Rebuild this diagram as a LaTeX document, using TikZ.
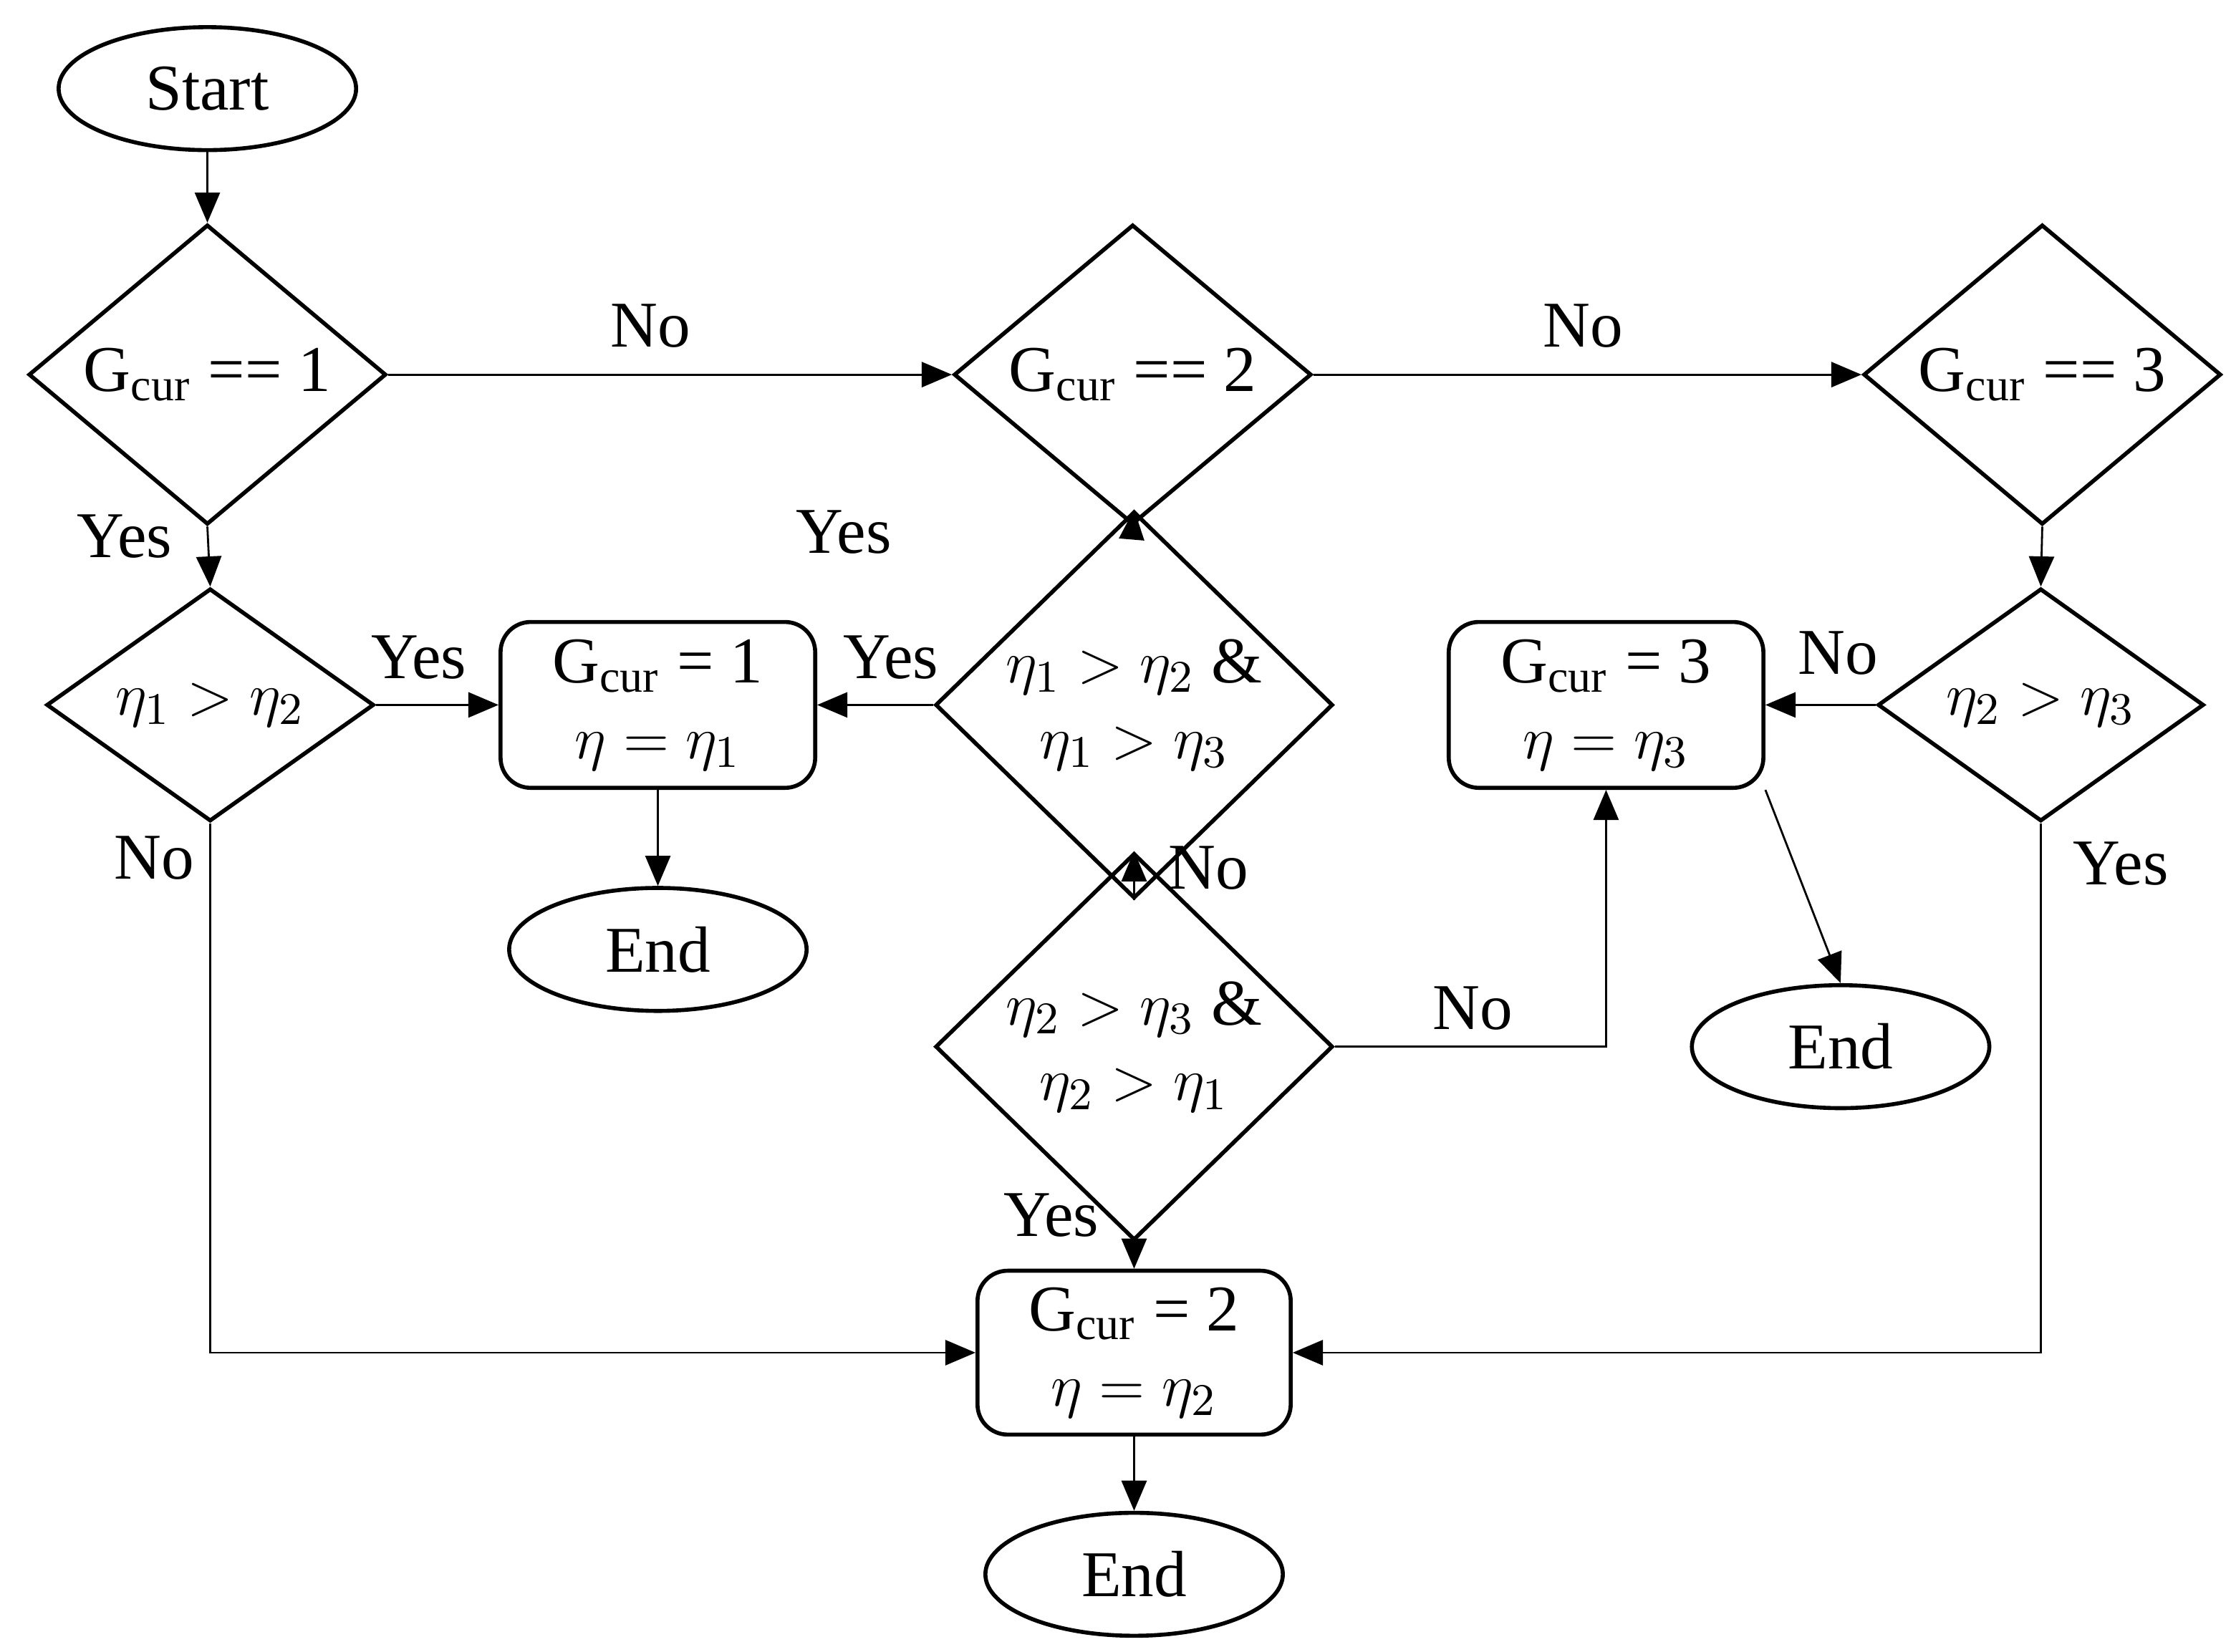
\documentclass[tikz,border=0pt]{standalone}
\usepackage{fontspec}
\setmainfont{Liberation Serif}
\usetikzlibrary{arrows.meta,shapes.geometric,calc}
\begin{document}
\begin{tikzpicture}
		[font=\fontsize{13}{15}\selectfont,
		term/.style={ellipse,draw=black,thick,minimum width=2.08cm,minimum height=0.86cm,inner sep=0},
		cond/.style={diamond,draw=black,thick,minimum width=2.5cm,minimum height=1.68cm,inner sep=0,align=center},
		proc/.style={rectangle,rounded corners=6pt,draw=black,thick,minimum width=2.2cm,minimum height=1.16cm,align=center},
		flow/.style={-{Triangle[length=6pt,width=5pt]}},
		lbl/.style={inner sep=0}]
		\useasboundingbox (0,0) rectangle (15.6,11.55);
		
		\node[term] (start) at (1.45,10.93){Start};
		\node[cond] (gone) at (1.45,8.93){G$_{\mathrm{cur}}$ == 1};
		\node[cond] (gtwo) at (7.92,8.93){G$_{\mathrm{cur}}$ == 2};
		\node[cond] (gthree) at (14.28,8.93){G$_{\mathrm{cur}}$ == 3};
		\node[cond,minimum width=2.29cm,minimum height=1.52cm] (eonetwo) at (1.47,6.62){$\eta_1>\eta_2$};
		\node[proc] (setone) at (4.60,6.62){G$_{\mathrm{cur}}$ = 1\\$\eta=\eta_1$};
		\node[cond,minimum width=2.78cm,minimum height=1.86cm] (eoneall) at (7.93,6.62){$\eta_1>\eta_2$ \&\\$\eta_1>\eta_3$};
		\node[proc] (setthree) at (11.23,6.62){G$_{\mathrm{cur}}$ = 3\\$\eta=\eta_3$};
		\node[cond,minimum width=2.28cm,minimum height=1.52cm] (etwothree) at (14.27,6.62){$\eta_2>\eta_3$};
		\node[term] (endone) at (4.60,4.91){End};
		\node[cond,minimum width=2.78cm,minimum height=1.85cm] (etwoall) at (7.93,4.23){$\eta_2>\eta_3$ \&\\$\eta_2>\eta_1$};
		\node[term] (endthree) at (12.87,4.23){End};
		\node[proc,minimum width=2.19cm,minimum height=1.14cm] (settwo) at (7.93,2.09){G$_{\mathrm{cur}}$ = 2\\$\eta=\eta_2$};
		\node[term] (endtwo) at (7.93,0.54){End};
		
		\coordinate (cornone) at (1.47,2.09);
		\coordinate (cornthree) at (14.27,2.09);
		\coordinate (cornno) at (11.23,4.23);
		
		\draw[flow] (start) -- (gone);
		\draw[flow] (gone.east) -- (gtwo.west);
		\draw[flow] (gtwo.east) -- (gthree.west);
		\draw[flow] (gone.south) -- (eonetwo.north);
		\draw[flow] (gtwo.south) -- (eoneall.north);
		\draw[flow] (gthree.south) -- (etwothree.north);
		\draw[flow] (eonetwo.east) -- (setone.west);
		\draw[flow] (eoneall.west) -- (setone.east);
		\draw[flow] (etwothree.west) -- (setthree.east);
		\draw[flow] (setone) -- (endone);
		\draw[flow] (eoneall.south) -- (etwoall.north);
		\draw[flow] (etwoall.east) -- (cornno) -- (setthree.south);
		\draw[flow] (setthree.south east) -- (endthree.north);
		\draw[flow] (etwoall.south) -- (settwo.north);
		\draw[flow] (eonetwo.south) -- (cornone) -- (settwo.west);
		\draw[flow] (etwothree.south) -- (cornthree) -- (settwo.east);
		\draw[flow] (settwo) -- (endtwo);
		
		\node[lbl] (noone) at (4.55,9.27){No};
		\node[lbl] (notwo) at (11.07,9.27){No};
		\node[lbl] (yesone) at (0.87,7.80){Yes};
		\node[lbl] (yestwo) at (5.90,7.83){Yes};
		\node[lbl] (yesthree) at (2.93,6.95){Yes};
		\node[lbl] (yesfour) at (6.23,6.95){Yes};
		\node[lbl] (nothree) at (12.85,6.98){No};
		\node[lbl] (nofour) at (1.08,5.55){No};
		\node[lbl] (nofive) at (8.45,5.48){No};
		\node[lbl] (yesfive) at (14.83,5.51){Yes};
		\node[lbl] (nosix) at (10.30,4.50){No};
		\node[lbl] (yessix) at (7.35,3.05){Yes};
		
	\end{tikzpicture}
\end{document}
